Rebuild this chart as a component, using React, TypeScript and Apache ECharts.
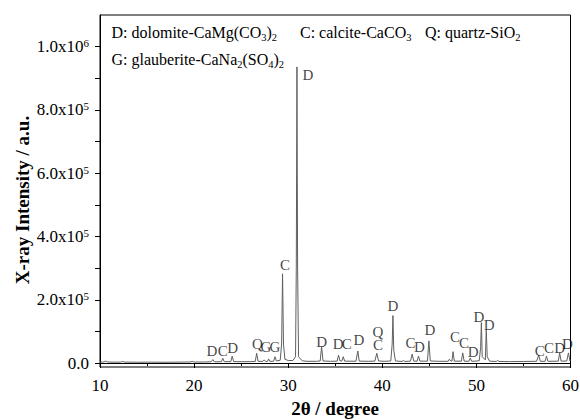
import React, { useEffect, useRef } from "react";
import * as echarts from "echarts";

const twoTheta = [
  10.0, 10.4, 10.6, 10.8, 11.5, 12.2, 12.4, 12.6, 14.0, 15.5, 17.0, 18.5, 19.6, 19.8, 20.0,
  21.0, 21.8, 22.0, 22.15, 22.9, 23.05, 23.2, 23.9, 24.05, 24.2, 25.0, 26.0, 26.5, 26.65, 26.8,
  27.3, 27.45, 27.6, 27.8, 27.92, 28.05, 28.45, 28.6, 28.75, 29.15, 29.3, 29.4, 29.5, 29.65,
  30.0, 30.5, 30.78, 30.86, 30.93, 31.0, 31.1, 31.5, 32.0, 33.0, 33.4, 33.55, 33.7, 34.5,
  35.2, 35.35, 35.5, 35.7, 35.85, 36.0, 37.2, 37.4, 37.55, 38.5, 39.2, 39.42, 39.6, 40.2,
  40.9, 41.05, 41.13, 41.22, 41.4, 42.1, 42.25, 42.4, 43.0, 43.17, 43.35, 43.7, 43.85, 44.0,
  44.8, 44.95, 45.1, 46.0, 47.0, 47.12, 47.3, 47.4, 47.52, 47.65, 48.4, 48.55, 48.7, 49.2,
  49.35, 49.5, 50.3, 50.45, 50.53, 50.62, 50.95, 51.05, 51.15, 51.4, 52.1, 52.25, 52.4, 53.5,
  55.0, 56.4, 56.62, 56.8, 57.3, 57.45, 57.6, 58.7, 58.85, 59.0, 59.6, 59.78, 59.95, 60.0,
];
const intensity = [
  3000, 3500, 6000, 3200, 2800, 3000, 5000, 3000, 2600, 2800, 2500, 3000, 3400, 5500, 3200,
  3300, 3800, 11000, 4000, 4200, 15000, 4200, 4500, 22000, 4600, 4200, 4500, 5200, 31000, 5500,
  5200, 10000, 5000, 5400, 13000, 5200, 5800, 20000, 6500, 9000, 60000, 282000, 60000, 12000,
  8000, 8000, 20000, 300000, 936000, 300000, 20000, 7000, 5500, 5500, 6500, 52000, 6500, 5500,
  6000, 25000, 7000, 6500, 20000, 6000, 5800, 38000, 6000, 5500, 6000, 31000, 6500, 5500,
  6500, 60000, 150000, 40000, 6500, 5000, 8000, 5000, 6000, 28000, 6000, 6000, 22000, 6000,
  6000, 70000, 6500, 5500, 5500, 12000, 6000, 6000, 36000, 6000, 6000, 32000, 6000, 5500,
  16000, 5500, 7000, 50000, 128000, 20000, 10000, 104000, 20000, 6000, 5000, 8000, 5000, 4500,
  5000, 5500, 25000, 5500, 5500, 22000, 5500, 6000, 32000, 6000, 6500, 32000, 6000, 6000,
];

// peak annotations: letter, 2θ, height of the letter
const annoText = ["D", "C", "D", "Q", "G", "G", "C", "D", "D", "D", "C", "D", "Q", "C", "D", "C", "D", "D", "C", "C", "D", "D", "D", "C", "C", "D", "D"];
const annoX = [21.9, 23.04, 24.1, 26.72, 27.64, 28.6, 29.66, 32.1, 33.56, 35.3, 36.22, 37.52, 39.54, 39.54, 41.14, 43.0, 43.95, 45.07, 47.73, 48.68, 49.67, 50.28, 51.37, 56.74, 57.72, 58.84, 59.66];
const annoY = [38100, 38100, 48500, 60200, 51700, 51700, 310000, 910000, 67500, 60200, 60200, 72800, 98100, 57000, 180000, 62400, 51700, 104500, 83300, 62400, 35900, 145500, 120300, 39000, 46600, 46600, 59300];

// phase key (rich text: n = normal, s = subscript)
const keyRow1 = [
  { text: "{n|D: dolomite-CaMg(CO}{s|3}{n|)}{s|2}", x: 111.5 },
  { text: "{n|C: calcite-CaCO}{s|3}", x: 300 },
  { text: "{n|Q: quartz-SiO}{s|2}", x: 425 },
];
const keyRow2 = [{ text: "{n|G: glauberite-CaNa}{s|2}{n|(SO}{s|4}{n|)}{s|2}", x: 111.5 }];

const yTitle = "X-ray Intensity / a.u.";
const xTitle = "2θ / degree";

const FONT = "Liberation Serif";

export default function App() {
  const ref = useRef<HTMLDivElement>(null);
  useEffect(() => {
    document.body.style.margin = "0";
    if (!ref.current) return;
    const chart = echarts.init(ref.current, undefined, { renderer: "svg" });
    const rich = {
      n: { fontFamily: FONT, fontSize: 16, color: "#000", lineHeight: 22 },
      s: { fontFamily: FONT, fontSize: 10.5, color: "#000", lineHeight: 10, verticalAlign: "bottom" },
    };
    const texts: any[] = [
      ...keyRow1.map((k) => ({ ...k, y: 32 })),
      ...keyRow2.map((k) => ({ ...k, y: 59 })),
    ].map((k) => ({
      type: "text",
      x: k.x,
      y: k.y,
      style: { text: k.text, rich, verticalAlign: "middle", align: "left", fontFamily: FONT },
    }));
    const titleStyle = {
      fontFamily: FONT,
      fontSize: 19,
      fontWeight: "bold",
      fill: "#000",
      align: "center",
      verticalAlign: "middle",
    };
    texts.push({ type: "text", x: 22, y: 200, rotation: Math.PI / 2, style: { text: yTitle, ...titleStyle } });
    texts.push({ type: "text", x: 335, y: 408, style: { text: xTitle, ...titleStyle } });

    const option: any = {
      animation: false,
      backgroundColor: "#fff",
      textStyle: { fontFamily: FONT },
      grid: [
        { left: 100, right: 9.5, top: 15, bottom: 53, outerBoundsMode: "none", containLabel: false, show: true, borderColor: "#000", borderWidth: 1, backgroundColor: "transparent" },
        { left: 100, right: 9.5, top: 46.65, bottom: 56.95, outerBoundsMode: "none", containLabel: false },
      ],
      xAxis: [
        {
          gridIndex: 0,
          type: "value",
          min: 10,
          max: 60,
          interval: 10,
          axisLine: { show: true, lineStyle: { color: "#000", width: 1 } },
          axisTick: { show: true, length: 5, lineStyle: { color: "#000" } },
          minorTick: { show: true, splitNumber: 2, length: 3, lineStyle: { color: "#000" } },
          axisLabel: { fontFamily: FONT, fontSize: 17, color: "#000", margin: 10 },
          splitLine: { show: false },
          minorSplitLine: { show: false },
        },
        { gridIndex: 1, type: "value", min: 10, max: 60, show: false },
      ],
      yAxis: [
        {
          gridIndex: 0,
          type: "value",
          min: -12500,
          max: 1100000,
          axisLine: { show: true, lineStyle: { color: "#000", width: 1 } },
          axisTick: { show: false },
          axisLabel: { show: false },
          splitLine: { show: false },
        },
        {
          gridIndex: 1,
          type: "value",
          min: 0,
          max: 1000000,
          interval: 100000,
          axisLine: { show: false },
          axisTick: { show: true, length: 5, lineStyle: { color: "#000" } },
          splitLine: { show: false },
          axisLabel: {
            margin: 11,
            fontFamily: FONT,
            formatter: (v: number) => {
              if (Math.round(v / 100000) % 2 === 1) return "";
              if (v === 0) return "{a|0.0}";
              const exp = Math.floor(Math.log10(v) + 1e-9);
              const mant = (v / Math.pow(10, exp)).toFixed(1);
              return `{a|${mant}x10}{b|${exp}}`;
            },
            rich: {
              a: { fontFamily: FONT, fontSize: 17, color: "#000", lineHeight: 18 },
              b: { fontFamily: FONT, fontSize: 11, color: "#000", lineHeight: 8, verticalAlign: "top" },
            },
          },
        },
      ],
      series: [
        {
          type: "line",
          xAxisIndex: 0,
          yAxisIndex: 0,
          data: twoTheta.map((t, i) => [t, intensity[i]]),
          showSymbol: false,
          symbol: "none",
          lineStyle: { color: "#606060", width: 1 },
          silent: true,
          z: 2,
        },
        {
          type: "scatter",
          xAxisIndex: 0,
          yAxisIndex: 0,
          symbolSize: 0,
          silent: true,
          data: annoText.map((t, i) => ({ name: t, value: [annoX[i], annoY[i]] })),
          label: {
            show: true,
            position: "inside",
            formatter: "{b}",
            fontFamily: FONT,
            fontSize: 15,
            lineHeight: 12,
            color: "#111",
          },
          z: 3,
        },
      ],
      graphic: texts,
    };
    chart.setOption(option);
    return () => chart.dispose();
  }, []);
  return <div ref={ref} style={{ width: 580, height: 420 }} />;
}
